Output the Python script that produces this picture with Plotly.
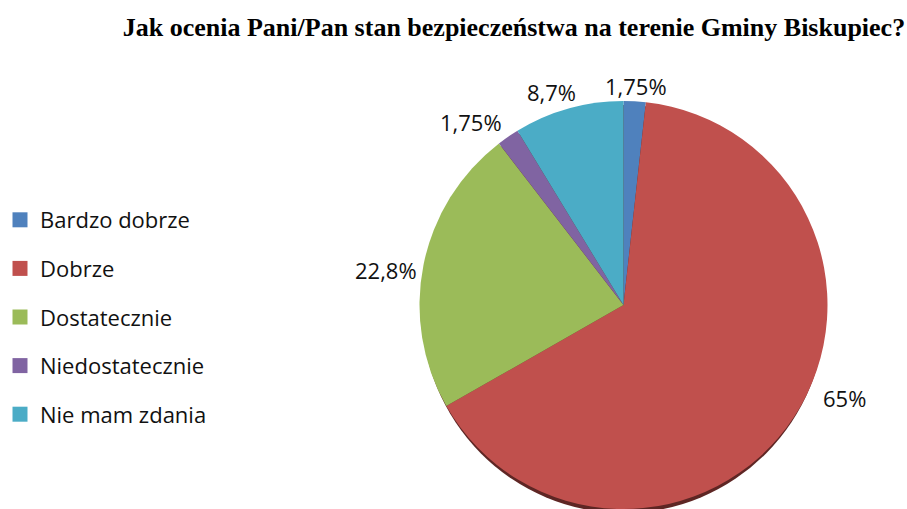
import plotly.graph_objects as go

# Survey answers and their shares (%)
categories = ["Bardzo dobrze", "Dobrze", "Dostatecznie", "Niedostatecznie", "Nie mam zdania"]
shares = [1.75, 65, 22.8, 1.75, 8.7]
colors = ["#4F81BD", "#C0504D", "#9BBB59", "#8064A2", "#4BACC6"]
title_text = "Jak ocenia Pani/Pan stan bezpieczeństwa na terenie Gminy Biskupiec?"

W, H = 907, 509
cx, cy, r = 623.5, 305, 204  # pie centre and radius in pixels (from top-left)

# data-label anchor points (pixels from top-left), one per slice
label_pos = [(636, 86), (844, 398), (386, 270), (471, 122), (551, 92)]

labels_txt = [f"{v:g}".replace(".", ",") + "%" for v in shares]

fig = go.Figure()

# soft dark rim under the pie
fig.add_shape(
    type="circle", xref="paper", yref="paper", layer="below",
    x0=(cx - r + 2) / W, x1=(cx + r - 2) / W,
    y0=(H - (cy + r + 4)) / H, y1=(H - (cy - r + 4)) / H,
    fillcolor="#5E2624", line=dict(width=0),
)

fig.add_trace(go.Pie(
    labels=categories, values=shares, sort=False, direction="clockwise", rotation=0,
    marker=dict(colors=colors, line=dict(width=0)),
    textinfo="none", showlegend=False, hoverinfo="label+percent",
    domain=dict(x=[(cx - r) / W, (cx + r) / W], y=[(H - cy - r) / H, (H - cy + r) / H]),
))

for txt, (px, py) in zip(labels_txt, label_pos):
    fig.add_annotation(
        x=px / W, y=1 - py / H, xref="paper", yref="paper", text=txt, showarrow=False,
        xanchor="center", yanchor="middle",
        font=dict(family="Open Sans", size=22, color="#111111"),
    )

# legend entries, one group each so the spacing can be set
for name, col in zip(categories, colors):
    fig.add_trace(go.Scatter(
        x=[None], y=[None], mode="markers", name=name, legendgroup=name,
        marker=dict(symbol="square", size=15, color=col),
    ))

fig.update_layout(
    width=W, height=H, margin=dict(l=0, r=0, t=0, b=0),
    paper_bgcolor="white", plot_bgcolor="white",
    xaxis=dict(visible=False), yaxis=dict(visible=False),
    legend=dict(
        x=0, y=1 - 317 / H, xanchor="left", yanchor="middle",
        font=dict(family="Open Sans", size=22, color="#111111"),
        traceorder="grouped", tracegroupgap=17, itemwidth=30,
    ),
    title=dict(
        text=f"<b>{title_text}</b>", x=0.998, xanchor="right", y=1 - 27 / H, yanchor="middle",
        font=dict(family="Liberation Serif", size=26, color="#000000"),
    ),
)

fig.write_html("out.html")
